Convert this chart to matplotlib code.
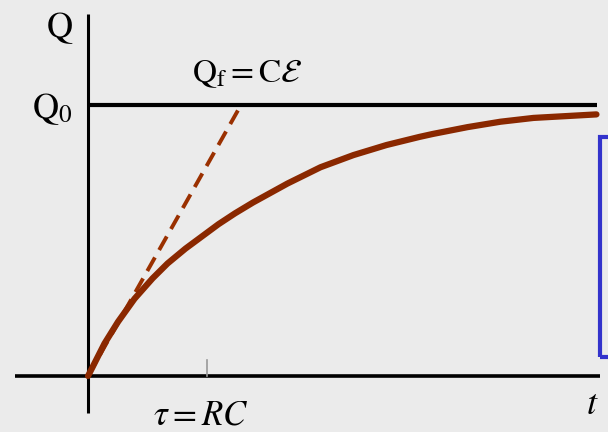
import matplotlib
matplotlib.use('Agg')
import matplotlib.pyplot as plt
from matplotlib.patches import Rectangle

# carga del capacitor, t en unidades de tau, Q en unidades de Q0
t_carga = [0.0, 0.11, 0.20, 0.31, 0.43, 0.53, 0.65, 0.76, 0.87, 0.98, 1.10,
           1.33, 1.55, 1.77, 1.99, 2.21, 2.30, 2.53, 2.75, 2.97, 3.39]
q_carga = [0.0, 0.12, 0.20, 0.285, 0.36, 0.415, 0.47, 0.515, 0.56, 0.60, 0.64,
           0.71, 0.77, 0.815, 0.852, 0.882, 0.893, 0.918, 0.938, 0.952, 0.965]

# tangente inicial Q = Q0 t / tau
t_tangente = [0.0, 1.01]
q_tangente = [0.0, 0.99]

q0 = 1.0
tau = 0.79  # marca en el eje t

plt.rcParams['mathtext.fontset'] = 'stix'
plt.rcParams['font.family'] = 'STIXGeneral'

fig = plt.figure(figsize=(6.08, 4.32), dpi=100)
fig.patch.set_facecolor('#ebebeb')
ax = fig.add_axes([0, 0, 1, 1])
ax.set_facecolor('#ebebeb')
ax.set_xlim(-0.587, 3.467)
ax.set_ylim(-0.2066, 1.387)
ax.axis('off')

# ejes
ax.plot([0, 0], [-0.137, 1.336], color='black', lw=2.2, solid_capstyle='butt')
ax.plot([-0.487, 3.413], [0, 0], color='black', lw=2.6, solid_capstyle='butt')
ax.plot([0, 3.393], [q0, q0], color='black', lw=3, solid_capstyle='butt')
ax.plot([tau, tau], [0, 0.06], color='#999999', lw=1.2)

ax.plot(t_tangente, q_tangente, color='#9a3000', lw=2.8, ls=(0, (4, 2.2)))
ax.plot(t_carga, q_carga, color='#8a2800', lw=4.5, solid_capstyle='round',
        solid_joinstyle='round')

ax.text(-0.187, 1.285, r'$\mathrm{Q}$', fontsize=26, ha='center', va='center')
ax.text(-0.24, 0.985, r'$\mathrm{Q}_0$', fontsize=26, ha='center', va='center')
ax.text(1.06, 1.115, r'$\mathrm{Q}_\mathrm{f} = \mathrm{C}\mathcal{E}$', fontsize=24, ha='center', va='center')
ax.text(0.75, -0.15, r'$\tau = RC$', fontsize=25, ha='center', va='center')
ax.text(3.36, -0.11, r'$t$', fontsize=26, ha='center', va='center')

ax.add_patch(Rectangle((3.413, 0.07), 0.2, 0.812, facecolor='none', edgecolor='#3333cc', lw=3, clip_on=True))

fig.savefig('out.png', dpi=100, facecolor=fig.get_facecolor())
